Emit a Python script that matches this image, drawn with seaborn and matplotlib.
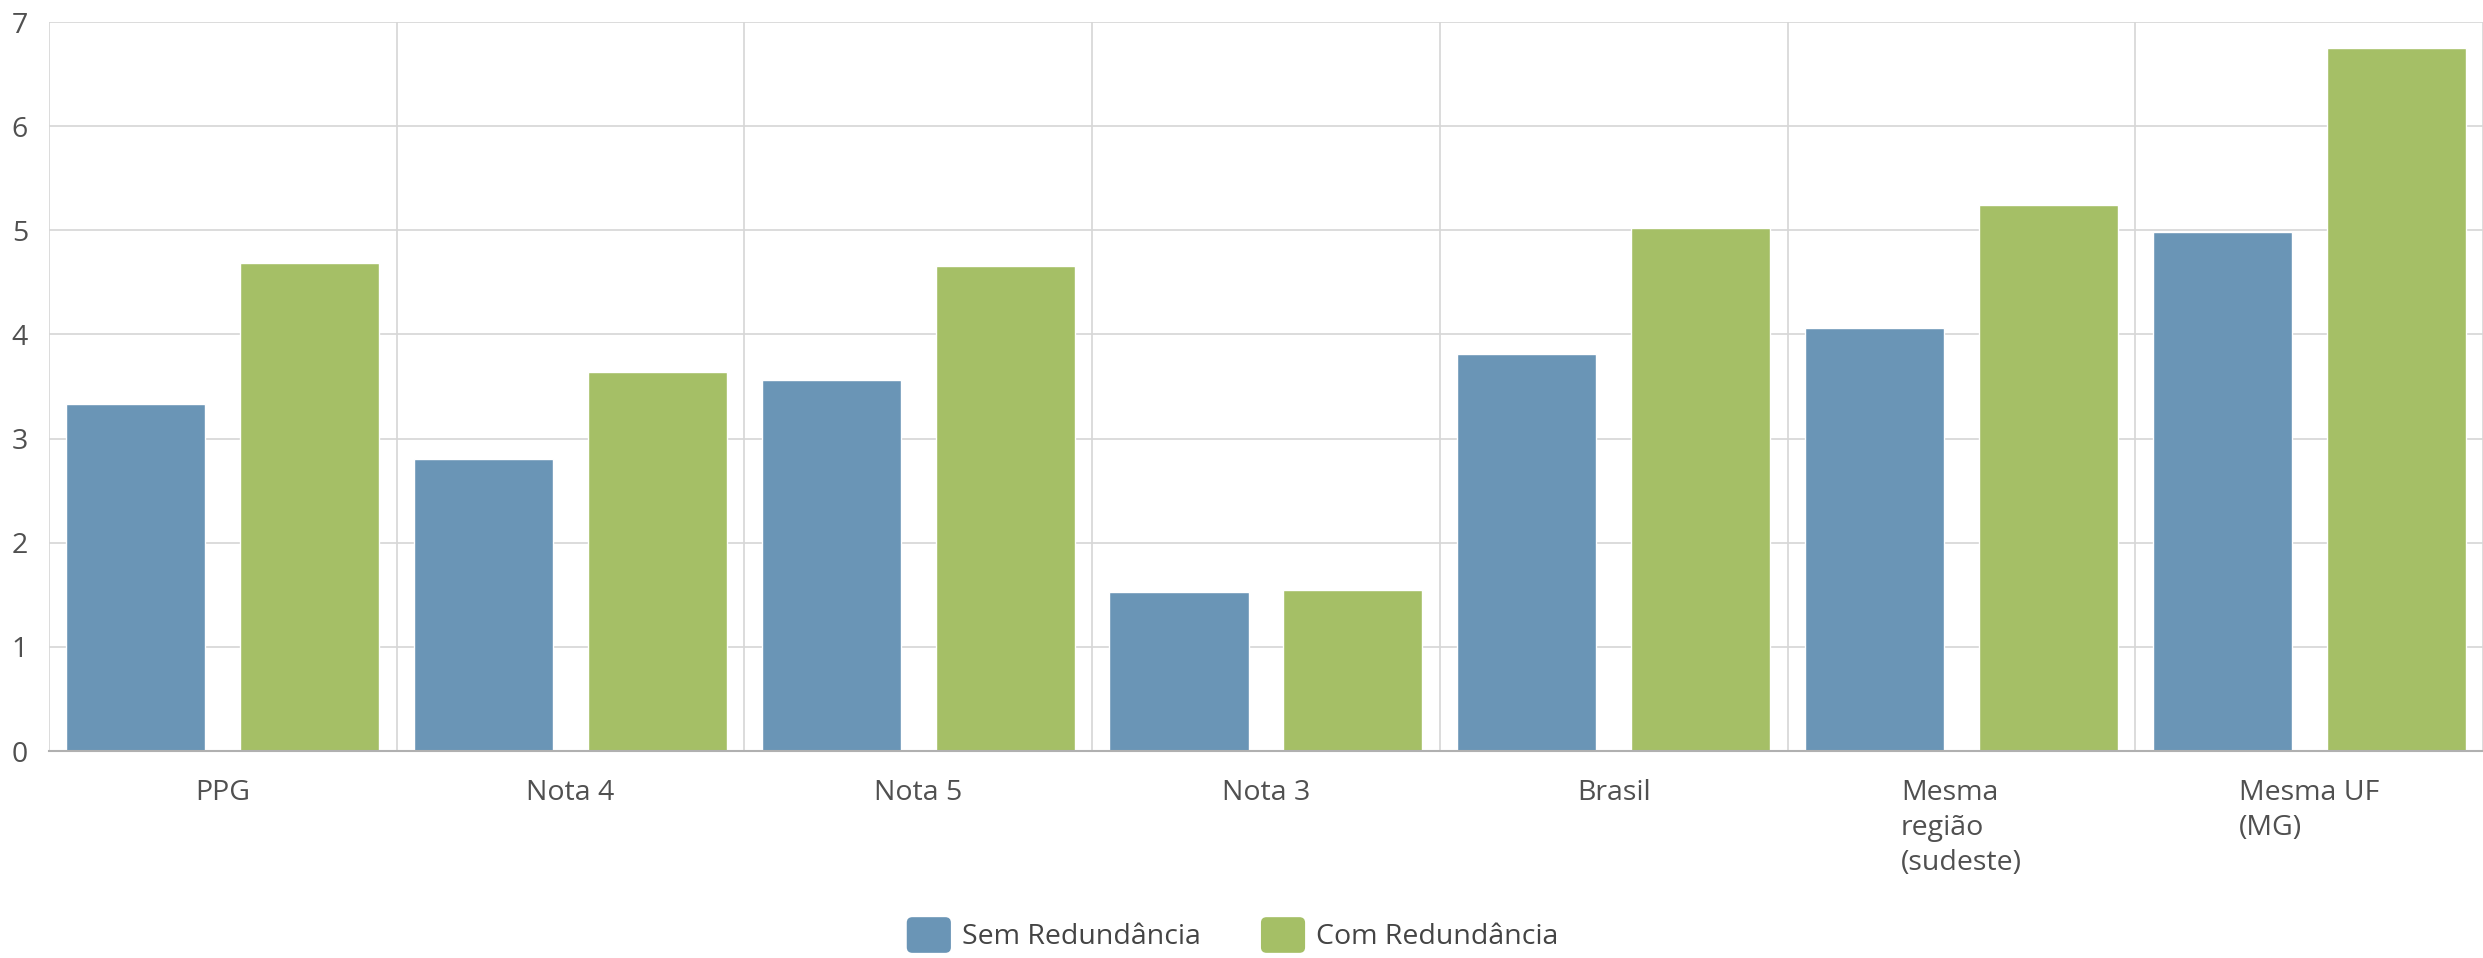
import numpy as np
import pandas as pd
import matplotlib
matplotlib.use('Agg')
import matplotlib.pyplot as plt
import seaborn as sns
from matplotlib.patches import FancyBboxPatch, Patch
from matplotlib.legend_handler import HandlerPatch

# Data
categories = ["PPG", "Nota 4", "Nota 5", "Nota 3", "Brasil",
              "Mesma\nregião\n(sudeste)", "Mesma UF\n(MG)"]
sem_redundancia = [3.33, 2.80, 3.56, 1.53, 3.81, 4.06, 4.98]
com_redundancia = [4.69, 3.64, 4.66, 1.55, 5.02, 5.24, 6.75]
series_names = ["Sem Redundância", "Com Redundância"]
colors = ["#6a95b6", "#a5bf66"]

df = pd.DataFrame({
    "categoria": categories * 2,
    "valor": sem_redundancia + com_redundancia,
    "serie": [series_names[0]] * len(categories) + [series_names[1]] * len(categories),
})


class RoundSquareHandler(HandlerPatch):
    """Legend marker drawn as a small rounded square."""
    def create_artists(self, legend, orig_handle, xdescent, ydescent,
                       width, height, fontsize, trans):
        p = FancyBboxPatch((-xdescent, -ydescent), width, height,
                           boxstyle="round,pad=0,rounding_size=4",
                           facecolor=orig_handle.get_facecolor(),
                           edgecolor="none", transform=trans)
        return [p]


sns.set_theme(style="white")
plt.rcParams['font.family'] = ['Open Sans', 'DejaVu Sans']

fig = plt.figure(figsize=(24.83, 9.58), dpi=100)
ax = fig.add_axes([0.0197, 0.216, 0.9803, 0.761])

sns.barplot(data=df, x="categoria", y="valor", hue="serie", palette=colors,
            width=1.0, gap=0.2, saturation=1, legend=False, ax=ax)

ax.set_xlim(-0.5, len(categories) - 0.5)
ax.set_ylim(0, 7)
ax.set_yticks(range(0, 8))
ax.set_xlabel("")
ax.set_ylabel("")

# grid: horizontal at each integer, vertical between categories
ax.set_xticks(np.arange(-0.5, len(categories), 1), minor=True)
ax.grid(True, which="major", axis="y", color="#d6d6d6", linewidth=1.2)
ax.grid(True, which="minor", axis="x", color="#d6d6d6", linewidth=1.2)
ax.set_axisbelow(True)
for s in ["top", "right", "left"]:
    ax.spines[s].set_visible(False)
ax.spines["bottom"].set_color("#b0b0b0")
ax.spines["bottom"].set_linewidth(1.5)

ax.tick_params(axis="x", which="both", length=0, pad=20, labelsize=20.5, labelcolor="#505050")
ax.tick_params(axis="y", length=0, pad=15, labelsize=20.5, labelcolor="#505050")
for lbl in ax.get_xticklabels():
    lbl.set_multialignment("left")
    lbl.set_verticalalignment("top")
    lbl.set_linespacing(1.34)

handles = [Patch(facecolor=c, edgecolor="none", label=n) for c, n in zip(colors, series_names)]
fig.legend(handles=handles, loc="center", bbox_to_anchor=(0.4965, 0.024), ncol=2,
           frameon=False, fontsize=20.5, labelcolor="#444444",
           handler_map={Patch: RoundSquareHandler()},
           handlelength=1.55, handleheight=1.55, handletextpad=0.4, columnspacing=2.1)

fig.savefig("out.png", dpi=100)
plt.close(fig)
